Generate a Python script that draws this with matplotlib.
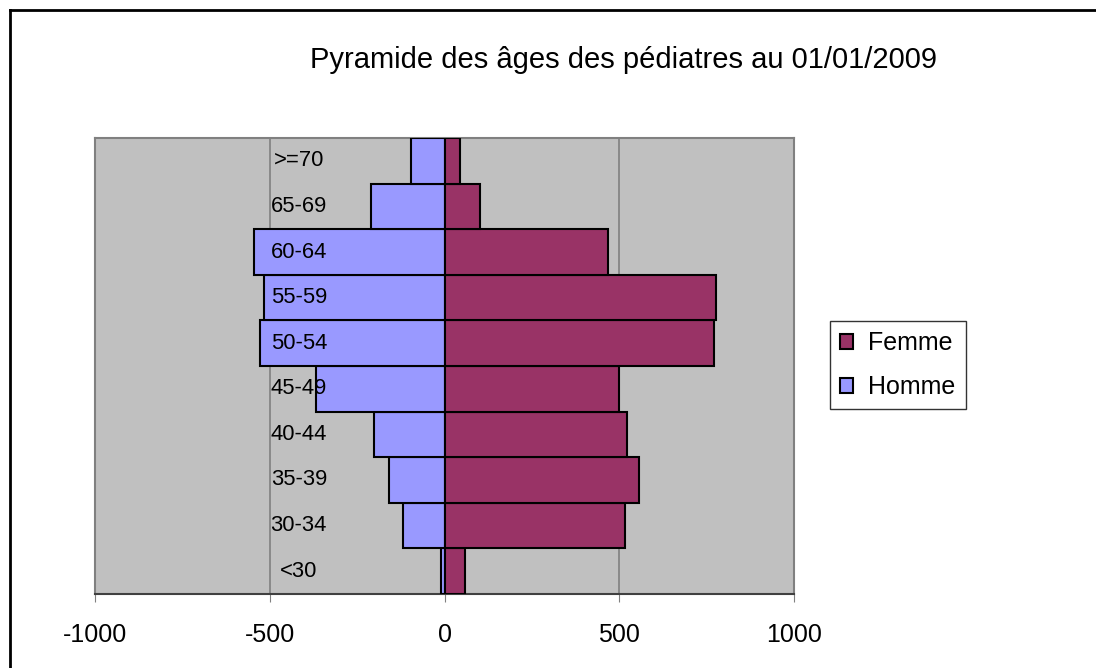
import numpy as np
import matplotlib
matplotlib.use('Agg')
import matplotlib.pyplot as plt
from matplotlib.lines import Line2D
from matplotlib.patches import Patch

plt.rcParams['font.family'] = ['Liberation Sans', 'DejaVu Sans']

# age classes, bottom to top
ages = ['<30', '30-34', '35-39', '40-44', '45-49', '50-54', '55-59', '60-64', '65-69', '>=70']
hommes = [11, 120, 159, 204, 369, 529, 518, 547, 211, 97]
femmes = [57, 517, 557, 523, 500, 772, 776, 466, 102, 45]
xticks = [-1000, -500, 0, 500, 1000]

fig = plt.figure(figsize=(10.96, 6.68), dpi=100)
ax = fig.add_axes([0.0871, 0.1108, 0.6374, 0.6826])
ax.set_facecolor('#C0C0C0')

y = np.arange(len(ages))
ax.barh(y, -np.array(hommes), height=1.0, color='#9999FF', edgecolor='black', linewidth=1.5, zorder=3)
ax.barh(y, femmes, height=1.0, color='#993366', edgecolor='black', linewidth=1.5, zorder=3)

# category labels sit inside the plot, near the -500 gridline
for i, lab in enumerate(ages):
    ax.text(-418, i, lab, ha='center', va='center', fontsize=15.8, zorder=4)

ax.set_xlim(-1000, 1000)
ax.set_ylim(-0.5, len(ages) - 0.5)
ax.set_xticks(xticks)
ax.set_xticklabels([str(t) for t in xticks], fontsize=18)
ax.set_yticks([])
ax.tick_params(axis='x', direction='out', length=6, color='#808080', pad=15)
ax.grid(axis='x', color='#808080', linewidth=1.2, zorder=1)
for s in ['top', 'left', 'right']:
    ax.spines[s].set_color('#808080')
    ax.spines[s].set_linewidth(1.5)
ax.spines['bottom'].set_color('#404040')
ax.spines['bottom'].set_linewidth(1.5)

fig.text(0.569, 0.91, 'Pyramide des âges des pédiatres au 01/01/2009', ha='center', va='center', fontsize=21)

handles = [Patch(facecolor='#993366', edgecolor='black', linewidth=1.5),
           Patch(facecolor='#9999FF', edgecolor='black', linewidth=1.5)]
leg = fig.legend(handles, ['Femme', 'Homme'], loc='upper left', bbox_to_anchor=(0.757, 0.5195),
                 fontsize=18, frameon=True, fancybox=False, edgecolor='black',
                 handlelength=0.55, handleheight=0.55, handletextpad=0.6,
                 borderpad=0.4, labelspacing=0.8, borderaxespad=0)
leg.get_frame().set_linewidth(1.0)

# chart border (only top and left visible)
fig.add_artist(Line2D([10 / 1096, 1], [1 - 10 / 668, 1 - 10 / 668], color='black', linewidth=2))
fig.add_artist(Line2D([10 / 1096, 10 / 1096], [0, 1 - 10 / 668], color='black', linewidth=2))

fig.savefig('out.png', dpi=100)
